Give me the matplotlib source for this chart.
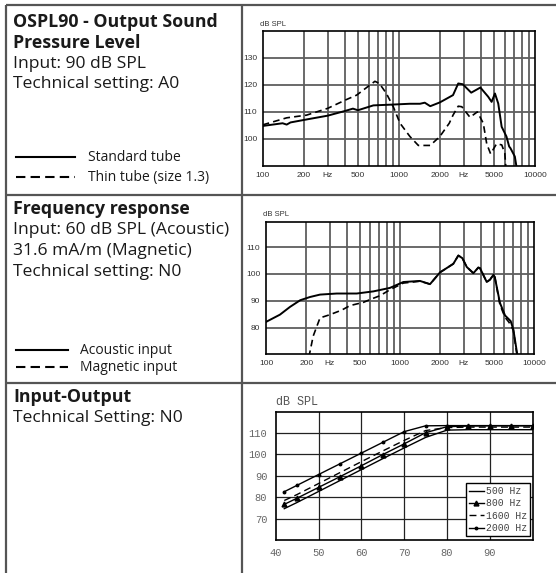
import numpy as np
import matplotlib.pyplot as plt

W, H = 556, 573

# --- OSPL90 (input 90 dB SPL) ---
osp_std_f = [100, 140, 150, 160, 210, 300, 400, 460, 500, 650, 900, 1200, 1430, 1550, 1700, 2000,
             2500, 2730, 2950, 3400, 3970, 4530, 4800, 5080, 5370, 5690, 6170, 6460, 6600, 7110, 7350]
osp_std_db = [104.8, 105.8, 105.3, 106.1, 107.2, 108.6, 110.3, 111.2, 110.6, 112.4, 112.7, 113.0, 113.0, 113.4, 112.1, 113.5,
              116.2, 120.5, 120.2, 117.1, 119.0, 115.6, 113.7, 116.8, 113.1, 104.5, 100.9, 97.2, 96.6, 93.5, 89.0]
osp_thin_f = [100, 150, 210, 300, 414, 490, 580, 667, 720, 810, 910, 1020, 1206, 1390, 1700, 2000,
              2345, 2500, 2730, 2900, 3330, 3770, 4170, 4420, 4720, 5220, 5700, 6000, 6120]
osp_thin_db = [105.2, 107.8, 108.8, 111.3, 114.6, 116.2, 119.0, 121.3, 120.5, 116.8, 111.9, 105.8, 100.9, 97.6, 97.6, 100.9,
               105.8, 108.8, 112.1, 111.9, 108.0, 110.0, 105.8, 98.2, 94.5, 98.2, 97.8, 94.7, 89.0]

# --- Frequency response (60 dB SPL / 31.6 mA/m) ---
fr_ac_f = [100, 127, 151, 180, 213, 253, 337, 475, 633, 841, 1059, 1410, 1675, 1990, 2500, 2725, 2920,
           3150, 3530, 3840, 3950, 4440, 4700, 4980, 5100, 5570, 6080, 6700, 7010, 7550]
fr_ac_db = [82.1, 84.8, 87.7, 90.2, 91.4, 92.3, 92.7, 92.7, 93.5, 94.8, 97.0, 97.4, 96.2, 100.6, 103.8, 106.9, 105.9,
            102.6, 100.3, 102.4, 102.2, 97.0, 97.9, 99.7, 98.8, 89.2, 84.5, 82.4, 79.3, 69.0]
fr_mag_f = [209, 225, 253, 300, 367, 424, 533, 615, 710, 841, 1059, 1300, 1410, 1675, 1990, 2500, 2725, 2920,
            3150, 3530, 3840, 3950, 4440, 4700, 4980, 5100, 5570, 6080, 6500, 7010, 7500]
fr_mag_db = [69.0, 76.8, 83.6, 84.8, 86.5, 88.2, 89.4, 90.7, 91.9, 94.1, 96.6, 97.1, 97.3, 96.2, 100.6, 103.8, 106.9, 105.9,
             102.6, 100.3, 102.4, 102.2, 97.0, 97.9, 99.7, 98.8, 88.5, 83.8, 82.0, 79.0, 69.0]

# --- Input-Output ---
io_in = [42, 45, 50, 55, 60, 65, 70, 75, 80, 85, 90, 95, 100]
io_500 = [74.6, 77.5, 82.6, 87.7, 92.8, 97.9, 102.9, 107.8, 111.2, 111.4, 111.4, 111.4, 111.4]
io_800 = [76.6, 79.5, 84.5, 89.5, 94.6, 99.8, 104.8, 110.0, 112.8, 113.1, 113.2, 113.2, 113.2]
io_1600 = [78.4, 81.2, 86.3, 91.4, 96.5, 101.5, 106.4, 111.0, 112.4, 112.6, 112.6, 112.6, 112.6]
io_2000 = [82.5, 85.5, 90.5, 95.5, 100.5, 105.5, 110.5, 113.2, 113.3, 113.3, 113.3, 113.3, 113.3]

freq_ticks = [100, 200, 300, 500, 1000, 2000, 3000, 5000, 10000]
freq_labels = ['100', '200', 'Hz', '500', '1000', '2000', 'Hz', '5000', '10000']
freq_grid = [200, 300, 400, 500, 600, 700, 800, 900, 1000, 2000, 3000, 4000, 5000, 6000, 7000, 8000, 9000]

fig = plt.figure(figsize=(W / 100, H / 100), dpi=100)

# background axes in pixel units for the table frame and the text
bg = fig.add_axes([0, 0, 1, 1])
bg.set_xlim(0, W)
bg.set_ylim(H, 0)
bg.axis('off')

frame = dict(color='#555555', lw=1.6, solid_capstyle='butt')
bg.plot([6, W], [5, 5], **frame)
bg.plot([6, 6], [5, H], **frame)
bg.plot([242, 242], [5, H], **frame)
bg.plot([6, W], [194.5, 194.5], **frame)
bg.plot([6, W], [383, 383], **frame)

tf = 'Open Sans'
def txt(x, y, s, size=12.6, bold=False):
    bg.text(x, y, s, family=tf, fontsize=size, fontweight='bold' if bold else 'normal',
            va='baseline', ha='left', color='#1a1a1a')

txt(13, 27, 'OSPL90 - Output Sound', size=12.8, bold=True)
txt(13, 47.5, 'Pressure Level', size=12.8, bold=True)
txt(13, 68, 'Input: 90 dB SPL')
txt(13, 88.5, 'Technical setting: A0')
bg.plot([16, 75], [157, 157], color='k', lw=1.5)
bg.plot([16, 75], [177, 177], color='k', lw=1.5, ls=(0, (4.5, 2.5)))
txt(88, 161, 'Standard tube', size=10)
txt(88, 181, 'Thin tube (size 1.3)', size=10)

txt(13, 214, 'Frequency response', size=12.8, bold=True)
txt(13, 234.5, 'Input: 60 dB SPL (Acoustic)')
txt(13, 255, '31.6 mA/m (Magnetic)')
txt(13, 275.5, 'Technical setting: N0')
bg.plot([16, 68], [350, 350], color='k', lw=1.5)
bg.plot([16, 68], [367, 367], color='k', lw=1.5, ls=(0, (4.5, 2.5)))
txt(80, 354, 'Acoustic input', size=10)
txt(80, 371, 'Magnetic input', size=10)

txt(13, 402, 'Input-Output', size=12.8, bold=True)
txt(13, 422.5, 'Technical Setting: N0')


def px_axes(x0, y0, x1, y1):
    return fig.add_axes([x0 / W, 1 - y1 / H, (x1 - x0) / W, (y1 - y0) / H])


def freq_axes(ax, ylo, yhi, yticks):
    ax.set_xscale('log')
    ax.set_xlim(100, 10000)
    ax.set_ylim(ylo, yhi)
    for f in freq_grid:
        ax.axvline(f, color='#5e5e5e', lw=1.3, zorder=1)
    for y in yticks:
        ax.axhline(y, color='#5e5e5e', lw=1.3, zorder=1)
    ax.set_xticks(freq_ticks)
    ax.set_xticklabels(freq_labels)
    ax.minorticks_off()
    ax.set_yticks(yticks)
    ax.tick_params(length=0, labelsize=6, labelcolor='#333333', pad=4)
    for lab in ax.get_xticklabels() + ax.get_yticklabels():
        lab.set_family('Liberation Sans')
    for sp in ax.spines.values():
        sp.set_linewidth(1.2)
        sp.set_color('k')


# OSPL90 chart
ax1 = px_axes(262.7, 30.7, 535, 166)
freq_axes(ax1, 90, 140, [100, 110, 120, 130])
ax1.plot(osp_std_f, osp_std_db, color='k', lw=1.4, zorder=3)
ax1.plot(osp_thin_f, osp_thin_db, color='k', lw=1.2, ls=(0, (4, 2.5)), zorder=3)
bg.text(260, 24, 'dB SPL', family='Liberation Sans', fontsize=5.5, va='center', color='#333333')

# Frequency response chart
ax2 = px_axes(266, 222.3, 534, 354.3)
freq_axes(ax2, 70, 119.3, [80, 90, 100, 110])
ax2.plot(fr_ac_f, fr_ac_db, color='k', lw=1.4, zorder=3)
ax2.plot(fr_mag_f, fr_mag_db, color='k', lw=1.2, ls=(0, (4, 2.5)), zorder=3)
bg.text(263, 214, 'dB SPL', family='Liberation Sans', fontsize=5.5, va='center', color='#333333')

# Input-Output chart
ax3 = px_axes(275.7, 412.3, 532.7, 540)
ax3.set_xlim(40, 100)
ax3.set_ylim(60, 119.5)
for x in [50, 60, 70, 80, 90]:
    ax3.axvline(x, color='#222222', lw=0.9, zorder=1)
for y in [70, 80, 90, 100, 110]:
    ax3.axhline(y, color='#222222', lw=0.9, zorder=1)
ax3.set_xticks([40, 50, 60, 70, 80, 90])
ax3.set_yticks([70, 80, 90, 100, 110])
ax3.tick_params(length=0, labelsize=7.5, labelcolor='#666666', pad=6)
for lab in ax3.get_xticklabels() + ax3.get_yticklabels():
    lab.set_family('Liberation Mono')
for sp in ax3.spines.values():
    sp.set_linewidth(1.2)
    sp.set_color('k')
l500, = ax3.plot(io_in, io_500, color='k', lw=1.0, label='500 Hz', zorder=3)
l800, = ax3.plot(io_in, io_800, color='k', lw=1.0, marker='^', ms=3.5, label='800 Hz', zorder=3)
l1600, = ax3.plot(io_in, io_1600, color='k', lw=1.0, ls=(0, (5, 3)), label='1600 Hz', zorder=3)
l2000, = ax3.plot(io_in, io_2000, color='k', lw=1.0, marker='o', ms=1.8, label='2000 Hz', zorder=3)
leg = ax3.legend(handles=[l500, l800, l1600, l2000], loc='lower right', bbox_to_anchor=(0.99, 0.03),
                 prop={'family': 'Liberation Mono', 'size': 7}, handlelength=1.6, handletextpad=0.2,
                 borderpad=0.3, labelspacing=0.25, fancybox=False, framealpha=1, edgecolor='k',
                 borderaxespad=0)
leg.get_frame().set_linewidth(1.0)
for t in leg.get_texts():
    t.set_color('#444444')
bg.text(276, 402, 'dB SPL', family='Liberation Mono', fontsize=8.5, va='center', color='#555555')

fig.savefig('out.png', dpi=100)
